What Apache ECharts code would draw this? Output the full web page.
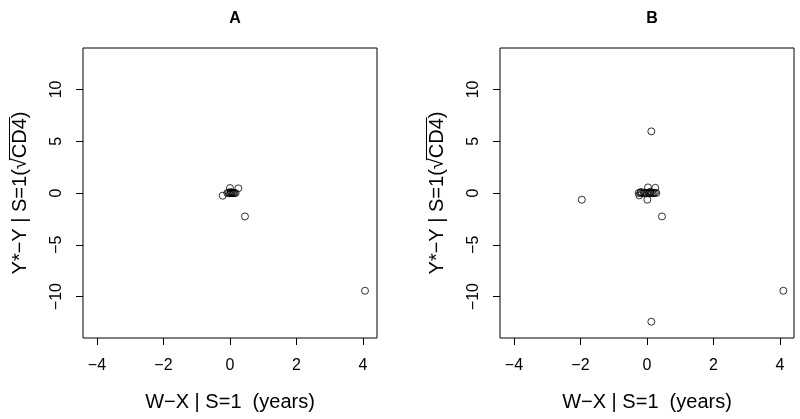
<!DOCTYPE html>
<html><head><meta charset="utf-8">
<script src="https://cdn.jsdelivr.net/npm/echarts@6/dist/echarts.min.js"></script>
<style>html,body{margin:0;padding:0;background:#fff}#c{width:800px;height:419px}</style>
</head><body><div id="c"></div>
<script>
// Panel A data
const aX = [-0.22, 0.00, 0.25, 0.45, 4.06, -0.08, -0.04, 0.00, 0.03, 0.05, 0.08, 0.10, 0.13, 0.17, 0.02];
const aY = [-0.26, 0.48, 0.45, -2.26, -9.44, 0.00, 0.02, -0.03, 0.00, 0.02, 0.00, -0.02, 0.00, 0.00, 0.10];
// Panel B data
const bX = [0.13, -1.96, 0.45, 4.10, 0.13, 0.01, 0.03, 0.25, -0.23, -0.25, -0.20, -0.15, -0.10, -0.05, 0.00, 0.05, 0.08, 0.12, 0.16, 0.20, 0.24, 0.28, -0.18, 0.10];
const bY = [5.95, -0.65, -2.26, -9.44, -12.43, -0.65, 0.54, 0.50, -0.23, 0.00, 0.02, -0.02, 0.00, 0.03, -0.03, 0.00, 0.02, 0.00, -0.02, 0.00, 0.02, 0.00, 0.10, 0.12];
const xTicks = [-4, -2, 0, 2, 4];
const yTicks = [-10, -5, 0, 5, 10];
const titles = ['A', 'B'];
const xName = 'W\u2212X | S=1  (years)';
const yNameHead = 'Y*\u2212Y | S=1(\u221A';
const yNameRoot = 'CD4';
const yNameTail = ')';
const yName = yNameHead + yNameRoot + yNameTail;

const font = 'Liberation Sans, Arial, sans-serif';
const pts = (xs, ys) => xs.map((x, i) => [x, ys[i]]);
const minus = v => String(v).replace('-', '\u2212');
const yNameGap = 53, yNameSize = 20;
function xAxis(idx) {
  return {
    gridIndex: idx, type: 'value', min: -4.42, max: 4.42,
    name: xName, nameLocation: 'middle', nameGap: 54,
    nameTextStyle: {fontFamily: font, fontSize: 20, color: '#000'},
    axisLine: {show: false, onZero: false},
    axisTick: {show: true, length: 7, inside: false, customValues: xTicks, lineStyle: {color: '#000'}},
    axisLabel: {customValues: xTicks, margin: 20, fontFamily: font, fontSize: 16, color: '#000', formatter: minus},
    splitLine: {show: false}
  };
}
function yAxis(idx) {
  return {
    gridIndex: idx, type: 'value', min: -14, max: 14,
    name: yName, nameLocation: 'middle', nameGap: yNameGap, nameRotate: 90,
    nameTextStyle: {fontFamily: font, fontSize: yNameSize, color: '#000'},
    axisLine: {show: false, onZero: false},
    axisTick: {show: true, length: 7, customValues: yTicks, lineStyle: {color: '#000'}},
    axisLabel: {customValues: yTicks, rotate: 90, margin: 18, fontFamily: font, fontSize: 16, color: '#000', formatter: minus},
    splitLine: {show: false}
  };
}
const gridLefts = [83, 500];
const gridTop = 48, gridBottom = 81;
const grids = [
  {left: gridLefts[0], right: 423, top: gridTop, bottom: gridBottom, show: true, borderColor: '#000', borderWidth: 1, backgroundColor: 'transparent'},
  {left: gridLefts[1], right: 6, top: gridTop, bottom: gridBottom, show: true, borderColor: '#000', borderWidth: 1, backgroundColor: 'transparent'}
];
// overline of the square root in the y-axis name (text decoration)
const cv = document.createElement('canvas').getContext('2d');
cv.font = yNameSize + 'px ' + font;
const wAll = cv.measureText(yName).width;
const wHead = cv.measureText(yNameHead).width;
const wRoot = cv.measureText(yNameRoot).width;
const midY = gridTop + (419 - gridTop - gridBottom) / 2;
const startY = midY + wAll / 2;
const overlines = gridLefts.map(gl => {
  const xTop = gl - yNameGap - yNameSize - 0.5;
  return {type: 'line', silent: true,
    shape: {x1: xTop, y1: startY - wHead + 2, x2: xTop, y2: startY - wHead - wRoot - 1},
    style: {stroke: '#000', lineWidth: 1}};
});
const sym = {color: 'transparent', borderColor: '#000', borderWidth: 1};
const chart = echarts.init(document.getElementById('c'), null, {renderer: 'canvas'});
chart.setOption({
  animation: false,
  backgroundColor: '#fff',
  title: [
    {text: titles[0], left: 230, top: 6, textAlign: 'center', textStyle: {fontFamily: font, fontSize: 16, fontWeight: 'bold', color: '#000'}},
    {text: titles[1], left: 647, top: 6, textAlign: 'center', textStyle: {fontFamily: font, fontSize: 16, fontWeight: 'bold', color: '#000'}}
  ],
  grid: grids,
  xAxis: [xAxis(0), xAxis(1)],
  yAxis: [yAxis(0), yAxis(1)],
  graphic: overlines,
  series: [
    {type: 'scatter', xAxisIndex: 0, yAxisIndex: 0, data: pts(aX, aY), symbol: 'circle', symbolSize: 7, itemStyle: sym},
    {type: 'scatter', xAxisIndex: 1, yAxisIndex: 1, data: pts(bX, bY), symbol: 'circle', symbolSize: 7, itemStyle: sym}
  ]
});
</script></body></html>
